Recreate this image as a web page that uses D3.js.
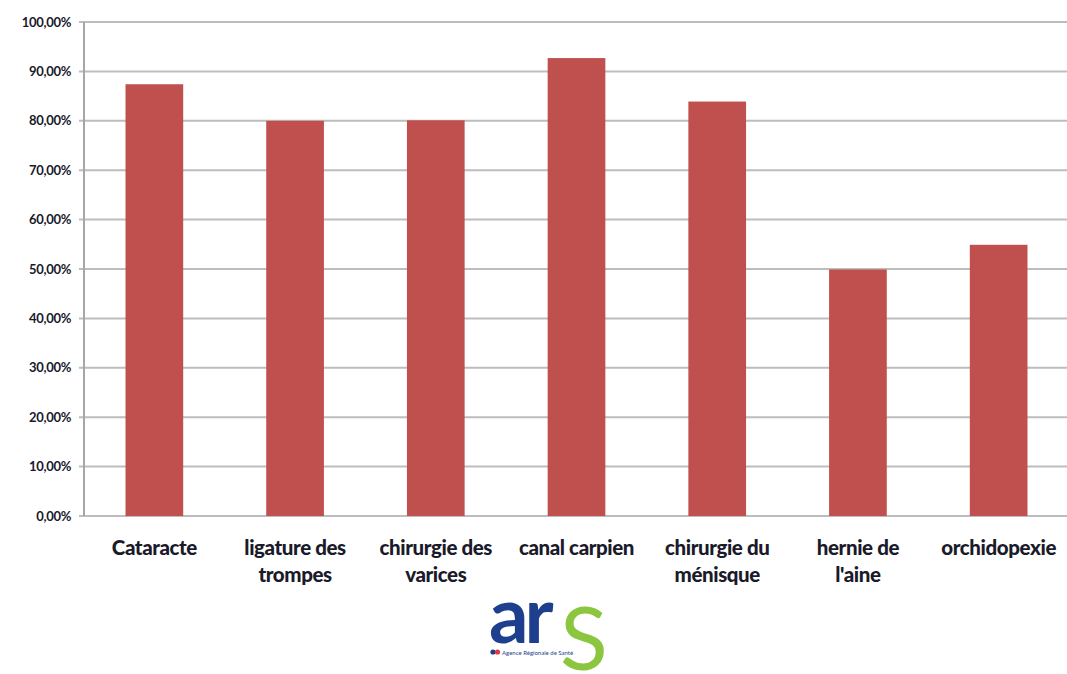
<!DOCTYPE html>
<html lang="fr">
<head>
<meta charset="utf-8">
<title>Chirurgie ambulatoire</title>
<script src="https://d3js.org/d3.v7.min.js"></script>
<style>
    body { margin: 0; background: #fff; }
    #chart1 { width: 1067px; height: 674px; overflow: hidden; }
</style>
</head>
<body>
<div id="chart1"></div>
<script>
    // data
    const categories = [
        ["Cataracte"],
        ["ligature des", "trompes"],
        ["chirurgie des", "varices"],
        ["canal carpien"],
        ["chirurgie du", "ménisque"],
        ["hernie de", "l'aine"],
        ["orchidopexie"]
    ]
    const values = [87.4, 80.0, 80.1, 92.7, 83.9, 49.9, 54.9]
    const yTicks = [0, 10, 20, 30, 40, 50, 60, 70, 80, 90, 100]

    const margin = {top: 22, right: 0, bottom: 158, left: 84}
    const width = 1069 - margin.left
    const height = 516 - margin.top

    const svg = d3.select("#chart1").append("svg")
        .attr("width", 1067)
        .attr("height", 674)

    const g = svg.append("g")
        .attr("transform", "translate(" + margin.left + "," + margin.top + ")")

    const x = d3.scaleBand()
        .domain(d3.range(categories.length))
        .range([0, width])
        .paddingInner(0.59)
        .paddingOuter(0.295)

    const y = d3.scaleLinear()
        .domain([0, 100])
        .range([height, 0])

    // gridlines
    g.append("g")
        .selectAll("line")
        .data(yTicks)
        .join("line")
            .attr("x1", -5)
            .attr("x2", width)
            .attr("y1", d => y(d))
            .attr("y2", d => y(d))
            .attr("stroke", "#bdbdbd")
            .attr("stroke-width", 2)

    // y axis line
    g.append("line")
        .attr("x1", 0).attr("x2", 0)
        .attr("y1", 0).attr("y2", height)
        .attr("stroke", "#a6a6a6")
        .attr("stroke-width", 2)

    // y labels
    const fmt = v => d3.format(".2f")(v).replace(".", ",") + "%"
    g.append("g")
        .selectAll("text")
        .data(yTicks)
        .join("text")
            .attr("x", -13)
            .attr("y", d => y(d))
            .attr("dy", "0.35em")
            .attr("text-anchor", "end")
            .style("font-family", "Lato, sans-serif")
            .style("font-weight", "bold")
            .style("font-size", "13px")
            .style("letter-spacing", "-0.3px")
            .attr("fill", "#1a1a2a")
            .text(fmt)

    // bars
    g.append("g")
        .selectAll("rect")
        .data(values)
        .join("rect")
            .attr("x", (d, i) => x(i))
            .attr("width", x.bandwidth())
            .attr("y", d => y(d))
            .attr("height", d => height - y(d))
            .attr("fill", "#c0504d")

    // category labels
    const labels = g.append("g")
        .selectAll("text")
        .data(categories)
        .join("text")
            .attr("x", (d, i) => x(i) + x.bandwidth() / 2)
            .attr("y", height + 39)
            .attr("text-anchor", "middle")
            .style("font-family", "Lato, sans-serif")
            .style("font-weight", "900")
            .style("font-size", "20.5px")
            .style("letter-spacing", "-0.4px")
            .attr("fill", "#1a1a2a")

    labels.selectAll("tspan")
        .data(d => d)
        .join("tspan")
            .attr("x", function() { return this.parentNode.getAttribute("x") })
            .attr("dy", (d, i) => i === 0 ? 0 : 27)
            .text(d => d)

    // ars logo
    const logo = svg.append("g")
    logo.append("text")
        .attr("x", 489).attr("y", 643)
        .style("font-family", "Lato, sans-serif")
        .style("font-weight", "bold")
        .style("font-size", "78px")
        .style("letter-spacing", "-4px")
        .attr("fill", "#1d3f8e")
        .text("ar")
    logo.append("text")
        .attr("x", 560).attr("y", 670)
        .style("font-family", "Lato, sans-serif")
        .style("font-weight", "normal")
        .style("font-size", "88px")
        .attr("fill", "#8cc63f")
        .text("S")
    logo.append("circle")
        .attr("cx", 493).attr("cy", 652).attr("r", 2.6)
        .attr("fill", "#1d3f8e")
    logo.append("circle")
        .attr("cx", 497.5).attr("cy", 652).attr("r", 2.6)
        .attr("fill", "#e03a3e")
    logo.append("text")
        .attr("x", 502).attr("y", 654.5)
        .style("font-family", "Lato, sans-serif")
        .style("font-size", "6px")
        .attr("fill", "#1d3f8e")
        .text("Agence Régionale de Santé")
</script>
</body>
</html>
